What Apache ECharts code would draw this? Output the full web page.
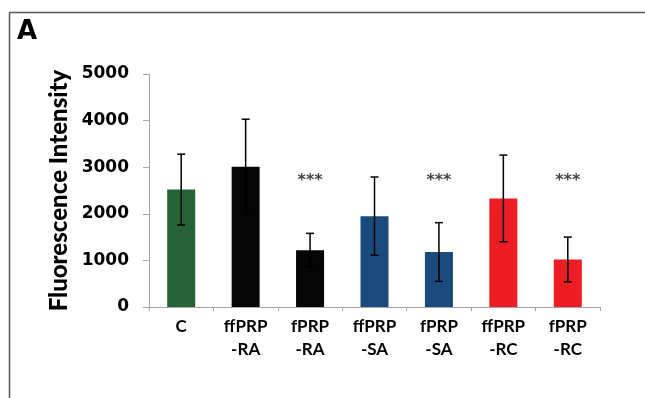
<!DOCTYPE html>
<html>
<head>
<meta charset="utf-8">
<script src="https://cdn.jsdelivr.net/npm/echarts@6/dist/echarts.min.js"></script>
<style>html,body{margin:0;padding:0;background:#fff;}#c{width:645px;height:398px;}</style>
</head>
<body>
<div id="c"></div>
<script>
var categories = ['C', 'ffPRP-RA', 'fPRP-RA', 'ffPRP-SA', 'fPRP-SA', 'ffPRP-RC', 'fPRP-RC'];
var means = [2520, 3010, 1220, 1950, 1180, 2330, 1020];
var errors = [760, 1020, 360, 840, 630, 930, 480];
var stars = ['', '', '***', '', '***', '', '***'];
var starLevel = 2780;
var barColors = ['#256236', '#050505', '#050505', '#1a4a7e', '#1a4a7e', '#ec1d24', '#ec1d24'];
var yTicks = [0, 1000, 2000, 3000, 4000, 5000];

var chart = echarts.init(document.getElementById('c'), null, {renderer: 'canvas'});
var option = {
  animation: false,
  backgroundColor: '#fff',
  grid: {left: 149, right: 45, top: 74, bottom: 91},
  graphic: [
    {type: 'line', shape: {x1: 9.5, y1: 12.5, x2: 645, y2: 12.5}, style: {stroke: '#555', lineWidth: 1.5}},
    {type: 'line', shape: {x1: 9.5, y1: 12.5, x2: 9.5, y2: 398}, style: {stroke: '#555', lineWidth: 1.5}},
    {type: 'text', left: 17, top: 19, style: {text: 'A', font: 'bold 26px "DejaVu Sans"', fill: '#000'}}
  ],
  xAxis: {
    type: 'category',
    data: categories,
    axisLine: {lineStyle: {color: '#a6a6a6', width: 1}},
    axisTick: {show: true, length: 4, lineStyle: {color: '#a6a6a6'}},
    axisLabel: {
      interval: 0,
      margin: 8,
      color: '#000',
      fontFamily: 'Lato',
      fontWeight: 'bold',
      fontSize: 17,
      lineHeight: 23,
      formatter: function (v) { return v.replace('-', '\n-'); }
    }
  },
  yAxis: {
    type: 'value',
    min: yTicks[0],
    max: yTicks[yTicks.length - 1],
    interval: 1000,
    name: 'Fluorescence Intensity',
    nameLocation: 'middle',
    nameGap: 67,
    nameRotate: 90,
    nameTextStyle: {color: '#000', fontFamily: 'Lato', fontWeight: 900, fontSize: 24},
    axisLine: {show: true, lineStyle: {color: '#a6a6a6', width: 1}},
    axisTick: {show: true, length: 6, lineStyle: {color: '#a6a6a6'}},
    splitLine: {show: false},
    axisLabel: {
      margin: 20, color: '#000', fontFamily: 'DejaVu Sans', fontWeight: 'bold', fontSize: 17,
      formatter: function (v) { return String(v); }
    }
  },
  series: [
    {
      type: 'bar',
      barWidth: 28,
      data: means.map(function (v, i) { return {value: v, itemStyle: {color: barColors[i]}}; }),
      z: 2
    },
    {
      type: 'custom',
      z: 5,
      data: means.map(function (v, i) { return [i, v - errors[i], v + errors[i]]; }),
      renderItem: function (params, api) {
        var x = api.value(0);
        var lo = api.coord([x, api.value(1)]);
        var hi = api.coord([x, api.value(2)]);
        var cap = 4;
        var st = {stroke: '#000', lineWidth: 1.5};
        return {
          type: 'group',
          children: [
            {type: 'line', shape: {x1: hi[0], y1: hi[1], x2: lo[0], y2: lo[1]}, style: st},
            {type: 'line', shape: {x1: hi[0] - cap, y1: hi[1], x2: hi[0] + cap, y2: hi[1]}, style: st},
            {type: 'line', shape: {x1: lo[0] - cap, y1: lo[1], x2: lo[0] + cap, y2: lo[1]}, style: st}
          ]
        };
      }
    },
    {
      type: 'scatter',
      symbolSize: 0,
      z: 6,
      data: stars.map(function (s, i) { return s ? {value: [i, starLevel], star: s} : null; }).filter(function (d) { return d; }),
      label: {
        show: true,
        position: 'inside',
        formatter: function (p) { return p.data.star; },
        color: '#111',
        fontFamily: 'DejaVu Sans',
        fontWeight: 'bold',
        fontSize: 16,
        offset: [0, 3]
      }
    }
  ]
};
chart.setOption(option);
</script>
</body>
</html>
